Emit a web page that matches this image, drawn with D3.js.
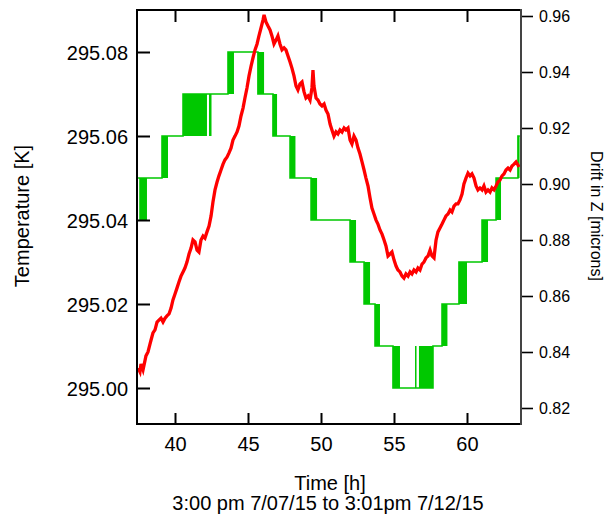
<!DOCTYPE html>
<html>
<head>
<meta charset="utf-8">
<script src="https://cdn.jsdelivr.net/npm/d3@7"></script>
<style>
  html, body { margin: 0; padding: 0; background: #fff; }
  svg { display: block; }
  text { font-family: "Liberation Sans", Arial, Helvetica, sans-serif; fill: #000; }
</style>
</head>
<body>
<svg id="chart" width="608" height="516"></svg>
<script>
// ---------- data ----------
const xTicks = [40, 45, 50, 55, 60];
const tempTicks = [295.00, 295.02, 295.04, 295.06, 295.08];
const driftTicks = [0.82, 0.84, 0.86, 0.88, 0.90, 0.92, 0.94, 0.96];

// Temperature (green): step levels (time at which level starts, level in K)
const tempStepTime  = [37.47, 39.11, 40.55, 43.63, 45.68, 46.71, 47.88, 49.32, 51.99, 52.95, 53.70, 54.93, 57.67, 58.29, 59.45, 61.03, 61.99, 63.49, 63.62];
const tempStepValue = [295.05, 295.06, 295.07, 295.08, 295.07, 295.06, 295.05, 295.04, 295.03, 295.02, 295.01, 295.00, 295.01, 295.02, 295.03, 295.04, 295.05, 295.06, 295.06];

// Temperature flicker bands (reading toggles between low and low+0.01 K)
const flickerStart = [37.55, 39.11, 40.55, 42.33, 43.63, 45.68, 46.71, 47.88, 49.32, 51.99, 52.95, 53.70, 54.93, 56.44, 56.71, 58.29, 59.45, 61.03, 61.99, 63.49];
const flickerEnd   = [38.08, 39.52, 42.19, 42.50, 44.04, 46.10, 46.99, 48.25, 49.73, 52.40, 53.36, 54.04, 55.41, 56.54, 57.67, 58.66, 60.00, 61.44, 62.33, 63.60];
const flickerLow   = [295.04, 295.05, 295.06, 295.06, 295.07, 295.07, 295.06, 295.05, 295.04, 295.03, 295.02, 295.01, 295.00, 295.00, 295.00, 295.01, 295.02, 295.03, 295.04, 295.05];

// Drift in Z (red)
const driftTime = [37.47,37.60,37.67,37.81,37.95,38.01,38.15,38.29,38.36,38.49,38.63,38.77,38.90,39.04,39.18,39.32,39.45,39.59,39.73,39.86,
  40.00,40.14,40.27,40.41,40.55,40.68,40.82,40.96,41.10,41.23,41.37,41.51,41.64,41.78,41.92,42.05,42.19,42.33,42.47,42.60,
  42.74,42.88,43.01,43.15,43.29,43.42,43.56,43.70,43.84,43.97,44.11,44.25,44.38,44.52,44.66,44.79,44.93,45.07,45.21,45.34,
  45.48,45.62,45.75,45.89,46.03,46.10,46.23,46.37,46.51,46.64,46.78,46.92,47.05,47.19,47.33,47.47,47.60,47.74,47.88,48.01,
  48.15,48.29,48.42,48.56,48.70,48.84,48.97,49.11,49.25,49.38,49.45,49.52,49.66,49.79,49.93,50.07,50.21,50.34,50.48,50.62,
  50.75,50.89,51.03,51.16,51.30,51.44,51.58,51.71,51.85,51.99,52.12,52.26,52.40,52.53,52.67,52.81,52.95,53.08,53.22,53.36,
  53.49,53.63,53.77,53.90,54.04,54.18,54.32,54.45,54.59,54.73,54.86,55.00,55.14,55.27,55.41,55.55,55.68,55.82,55.96,56.10,
  56.23,56.37,56.51,56.64,56.78,56.92,57.05,57.19,57.33,57.47,57.60,57.74,57.88,58.01,58.15,58.29,58.42,58.56,58.70,58.84,
  58.97,59.11,59.25,59.38,59.52,59.66,59.79,59.93,60.07,60.21,60.34,60.48,60.62,60.75,60.89,61.03,61.16,61.30,61.44,61.58,
  61.71,61.85,61.99,62.12,62.26,62.40,62.53,62.67,62.81,62.95,63.08,63.22,63.36,63.49,63.56];
const driftValue = [0.8343,0.8329,0.8357,0.8336,0.8371,0.8386,0.8400,0.8429,0.8443,0.8468,0.8479,0.8507,0.8514,0.8521,0.8507,0.8521,0.8529,0.8536,0.8557,0.8586,
  0.8607,0.8629,0.8650,0.8671,0.8686,0.8700,0.8721,0.8750,0.8771,0.8800,0.8793,0.8764,0.8757,0.8800,0.8814,0.8807,0.8829,0.8850,0.8886,0.8936,
  0.8979,0.9007,0.9029,0.9050,0.9071,0.9086,0.9096,0.9111,0.9129,0.9157,0.9171,0.9186,0.9207,0.9243,0.9271,0.9307,0.9343,0.9386,0.9421,0.9450,
  0.9479,0.9500,0.9529,0.9557,0.9586,0.9604,0.9579,0.9564,0.9550,0.9529,0.9500,0.9514,0.9529,0.9500,0.9479,0.9486,0.9479,0.9457,0.9436,0.9414,
  0.9386,0.9350,0.9336,0.9357,0.9364,0.9329,0.9307,0.9314,0.9300,0.9343,0.9407,0.9350,0.9307,0.9300,0.9286,0.9279,0.9286,0.9264,0.9250,0.9214,
  0.9193,0.9171,0.9186,0.9179,0.9193,0.9186,0.9200,0.9193,0.9200,0.9157,0.9143,0.9171,0.9157,0.9129,0.9107,0.9079,0.9050,0.9021,0.8993,0.8950,
  0.8914,0.8893,0.8871,0.8857,0.8836,0.8821,0.8800,0.8779,0.8743,0.8750,0.8757,0.8729,0.8707,0.8693,0.8686,0.8671,0.8664,0.8679,0.8671,0.8686,
  0.8679,0.8693,0.8686,0.8700,0.8693,0.8714,0.8721,0.8736,0.8743,0.8764,0.8743,0.8736,0.8800,0.8829,0.8843,0.8857,0.8871,0.8886,0.8893,0.8907,
  0.8900,0.8921,0.8929,0.8929,0.8943,0.8964,0.9000,0.9021,0.9039,0.9029,0.9036,0.9021,0.8993,0.8979,0.8986,0.8979,0.8993,0.8971,0.8979,0.8971,
  0.8986,0.8979,0.8993,0.9007,0.9014,0.9029,0.9036,0.9050,0.9057,0.9050,0.9064,0.9071,0.9079,0.9068,0.9061];

// ---------- layout ----------
const mLeft = 137, mRight = 521, mTop = 10, mBottom = 424;
const green = "#00c800", red = "#ff0000";

const svg = d3.select("#chart");
svg.append("rect").attr("width", 608).attr("height", 516).attr("fill", "#fff");

const x = d3.scaleLinear().domain([37.397, 63.699]).range([mLeft, mRight]);
const yT = d3.scaleLinear().domain([294.991429, 295.09]).range([mBottom, mTop]);
const yD = d3.scaleLinear().domain([0.814286, 0.962143]).range([mBottom, mTop]);

svg.append("defs").append("clipPath").attr("id", "plotclip")
  .append("rect").attr("x", mLeft).attr("y", mTop).attr("width", mRight - mLeft).attr("height", mBottom - mTop);

const plot = svg.append("g").attr("clip-path", "url(#plotclip)");

// green flicker bands
const bands = flickerStart.map((s, i) => ({ s, e: flickerEnd[i], lo: flickerLow[i] }));
plot.append("g").selectAll("rect").data(bands).join("rect")
  .attr("x", d => x(d.s))
  .attr("width", d => Math.max(1.5, x(d.e) - x(d.s)))
  .attr("y", d => yT(+(d.lo + 0.01).toFixed(2)))
  .attr("height", d => yT(d.lo) - yT(+(d.lo + 0.01).toFixed(2)))
  .attr("fill", green);

// green step line
const steps = tempStepTime.map((t, i) => [t, tempStepValue[i]]);
plot.append("path")
  .datum(steps)
  .attr("fill", "none")
  .attr("stroke", green)
  .attr("stroke-width", 1.6)
  .attr("d", d3.line().x(d => x(d[0])).y(d => yT(d[1])).curve(d3.curveStepAfter));

// red drift line
const drift = driftTime.map((t, i) => [t, driftValue[i]]);
plot.append("path")
  .datum(drift)
  .attr("fill", "none")
  .attr("stroke", red)
  .attr("stroke-width", 3.3)
  .attr("stroke-linejoin", "miter")
  .attr("d", d3.line().x(d => x(d[0])).y(d => yD(d[1])));

// ---------- axes ----------
function styleAxis(g, size) {
  g.select(".domain").remove();
  g.selectAll(".tick line").attr("stroke", "#000").attr("stroke-width", 2);
  g.selectAll(".tick text").attr("font-size", size)
    .attr("font-family", "'Liberation Sans', Arial, Helvetica, sans-serif").attr("fill", "#111");
}

const gLeft = svg.append("g").attr("transform", `translate(${mLeft},0)`)
  .call(d3.axisLeft(yT).tickValues(tempTicks).tickFormat(d3.format(".2f")).tickSize(-13).tickPadding(9));
styleAxis(gLeft, 20);
gLeft.selectAll(".tick text").attr("dy", "0.36em");

const gBottom = svg.append("g").attr("transform", `translate(0,${mBottom})`)
  .call(d3.axisBottom(x).tickValues(xTicks).tickFormat(d3.format("d")).tickSize(-11).tickPadding(13));
styleAxis(gBottom, 20);

const gTop = svg.append("g").attr("transform", `translate(0,${mTop})`)
  .call(d3.axisTop(x).tickValues(xTicks).tickFormat("").tickSize(-12));
styleAxis(gTop, 20);

const gRight = svg.append("g").attr("transform", `translate(${mRight},0)`)
  .call(d3.axisRight(yD).tickValues(driftTicks).tickFormat(d3.format(".2f")).tickSize(12).tickPadding(6));
styleAxis(gRight, 16);
gRight.selectAll(".tick line").attr("stroke-width", 1.6);

// frame
svg.append("path")
  .attr("d", `M${mRight},${mTop}H${mLeft}V${mBottom}H${mRight}`)
  .attr("fill", "none").attr("stroke", "#000").attr("stroke-width", 2);
svg.append("line")
  .attr("x1", mRight).attr("x2", mRight).attr("y1", mTop - 1).attr("y2", mBottom + 1)
  .attr("stroke", "#444").attr("stroke-width", 2);

// ---------- titles ----------
svg.append("text")
  .attr("transform", "translate(29,216) rotate(-90)")
  .attr("text-anchor", "middle").attr("font-size", 20)
  .text("Temperature [K]");

svg.append("text")
  .attr("transform", "translate(591,216) rotate(90)")
  .attr("text-anchor", "middle").attr("font-size", 16)
  .text("Drift in Z [microns]");

svg.append("text")
  .attr("x", 330).attr("y", 490)
  .attr("text-anchor", "middle").attr("font-size", 20)
  .text("Time [h]");

svg.append("text")
  .attr("x", 328).attr("y", 510)
  .attr("text-anchor", "middle").attr("font-size", 20)
  .text("3:00 pm 7/07/15 to 3:01pm 7/12/15");
</script>
</body>
</html>
